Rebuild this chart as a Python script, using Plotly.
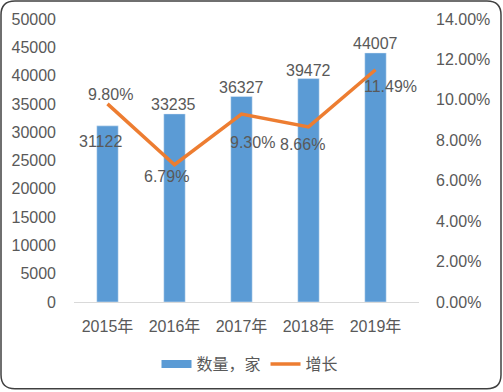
import plotly.graph_objects as go

years = ["2015年", "2016年", "2017年", "2018年", "2019年"]
counts = [31122, 33235, 36327, 39472, 44007]
growth = [9.80, 6.79, 9.30, 8.66, 11.49]
count_labels = ["31122", "33235", "36327", "39472", "44007"]
growth_labels = ["9.80%", "6.79%", "9.30%", "8.66%", "11.49%"]
left_ticks = [0, 5000, 10000, 15000, 20000, 25000, 30000, 35000, 40000, 45000, 50000]
right_ticks = [0, 2, 4, 6, 8, 10, 12, 14]

W, H = 503, 392
L, R, T, B = 74, 84, 19, 89
PW, PH = W - L - R, H - T - B

def px_x(p):
    return (p - L) / PW

def px_y(p):
    return (H - B - p) / PH

FONT = "Liberation Sans, Noto Sans CJK SC, sans-serif"
TXT = "#595959"
BLUE = "#5B9BD5"
ORANGE = "#ED7D31"
FS = 16

fig = go.Figure()
fig.add_trace(go.Bar(x=years, y=counts, name="数量，家", marker_color=BLUE,
                     yaxis="y", hoverinfo="skip", showlegend=False))
# legend-only entry drawn as a wide block, like the reference legend key
fig.add_trace(go.Scatter(x=[None], y=[None], name="数量，家", mode="lines",
                         line=dict(color=BLUE, width=8), yaxis="y", hoverinfo="skip"))
fig.add_trace(go.Scatter(x=years, y=growth, name="增长", mode="lines",
                         line=dict(color=ORANGE, width=3.5), yaxis="y2", hoverinfo="skip"))

bar_shift = [(-7, -16), (-1, 9), (0, 9), (0, 8), (0, 9)]
for yr, v, lab, (dx, dy) in zip(years, counts, count_labels, bar_shift):
    fig.add_annotation(x=yr, y=v, xref="x", yref="y", text=lab, showarrow=False,
                       xshift=dx, yshift=dy, yanchor="middle",
                       font=dict(family=FONT, size=FS, color=TXT))

line_shift = [(3, 9), (-8, -12), (11, -28), (-6, -18), (15, -17)]
for yr, v, lab, (dx, dy) in zip(years, growth, growth_labels, line_shift):
    fig.add_annotation(x=yr, y=v, xref="x", yref="y2", text=lab, showarrow=False,
                       xshift=dx, yshift=dy, yanchor="middle",
                       font=dict(family=FONT, size=FS, color=TXT))

# rounded outer border
x0, x1 = 1, W - 2
y0, y1 = 1, H - 2
r = 14
def P(x, y):
    return f"{px_x(x):.5f},{px_y(y):.5f}"
path = (f"M {P(x0 + r, y0)} L {P(x1 - r, y0)} Q {P(x1, y0)} {P(x1, y0 + r)} "
        f"L {P(x1, y1 - r)} Q {P(x1, y1)} {P(x1 - r, y1)} "
        f"L {P(x0 + r, y1)} Q {P(x0, y1)} {P(x0, y1 - r)} "
        f"L {P(x0, y0 + r)} Q {P(x0, y0)} {P(x0 + r, y0)} Z")
fig.add_shape(type="path", path=path, xref="paper", yref="paper",
              line=dict(color="#404040", width=1.5), layer="above")

fig.update_layout(
    width=W, height=H,
    margin=dict(l=L, r=R, t=T, b=B, pad=0),
    paper_bgcolor="white", plot_bgcolor="white",
    bargap=0.68,
    hovermode=False,
    showlegend=True,
    legend=dict(orientation="h", x=px_x(250), xanchor="center", y=px_y(364), yanchor="middle",
                font=dict(family=FONT, size=FS, color=TXT), itemwidth=30,
                bgcolor="rgba(0,0,0,0)"),
    xaxis=dict(showgrid=False, showline=True, linecolor="#D9D9D9", linewidth=1,
               ticks="", tickfont=dict(family=FONT, size=FS, color=TXT), ticklabelstandoff=10),
    yaxis=dict(range=[0, 50000], tickvals=left_ticks, ticktext=[str(t) for t in left_ticks],
               showgrid=False, zeroline=False, showline=False, ticks="",
               tickfont=dict(family=FONT, size=FS, color=TXT), ticklabelstandoff=17),
    yaxis2=dict(range=[0, 14], overlaying="y", side="right", tickvals=right_ticks,
                ticktext=[f"{t:.2f}%" for t in right_ticks],
                showgrid=False, zeroline=False, showline=False, ticks="",
                tickfont=dict(family=FONT, size=FS, color=TXT), ticklabelstandoff=16),
)

fig.write_html("out.html", config={"displayModeBar": False, "staticPlot": True},
               post_script="document.body.style.margin='0';document.body.style.overflow='hidden';")
